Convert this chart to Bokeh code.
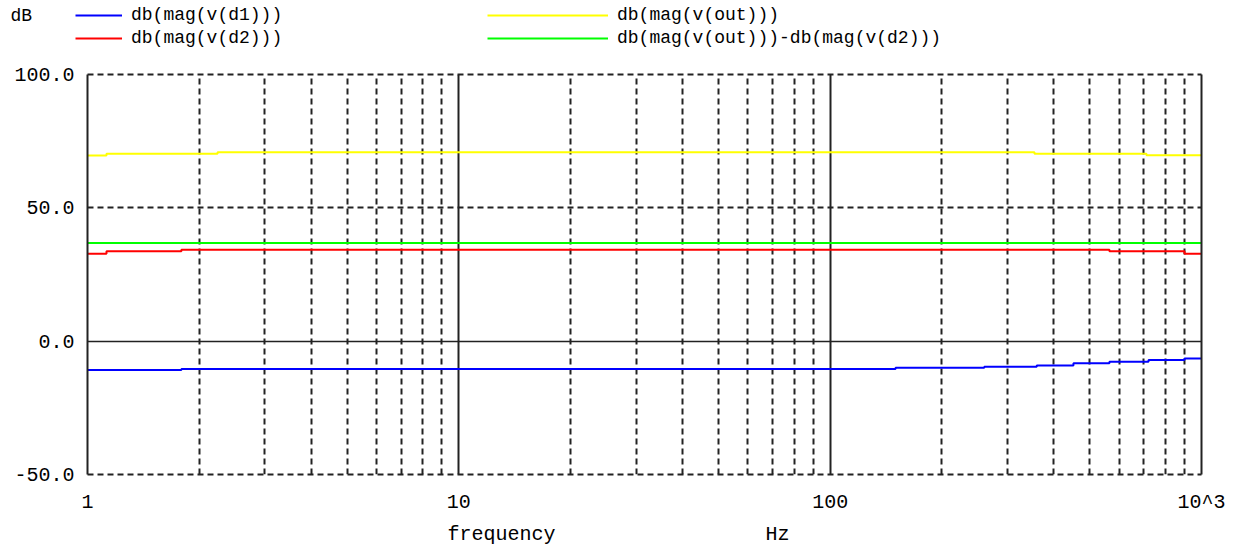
from bokeh.plotting import figure
from bokeh.layouts import column
from bokeh.models import (FixedTicker, Grid, Legend, LegendItem, Label, Range1d,
                          LinearAxis, LogAxis, LogScale)
from bokeh.embed import file_html
from bokeh.resources import INLINE

# ---- data ----
f_d1 = [1, 1.79, 150, 260, 360, 452, 565, 720, 900, 1000]
v_d1 = [-10.8, -10.4, -10.0, -9.6, -9.1, -8.3, -7.7, -7.1, -6.5, -6.5]

f_d2 = [1, 1.125, 1.79, 565, 900, 1000]
v_d2 = [32.8, 33.7, 34.3, 33.7, 32.8, 32.8]

f_out = [1, 1.125, 2.24, 355, 711, 1000]
v_out = [69.6, 70.3, 70.8, 70.3, 69.7, 69.7]

f_diff = [1, 1000]
v_diff = [36.8, 36.8]

series_labels = ["db(mag(v(d1)))", "db(mag(v(d2)))",
                 "db(mag(v(out)))", "db(mag(v(out)))-db(mag(v(d2)))"]
series_colors = ["#0000ff", "#ff0000", "#ffff00", "#00ff00"]

x_ticks = [1, 10, 100, 1000]
x_tick_labels = ["1", "10", "100", "10^3"]
x_minor = [m * d for d in (1, 10, 100) for m in range(2, 10)]
y_ticks = [-50, 0, 50, 100]
y_tick_labels = ["-50.0", "0.0", "50.0", "100.0"]

FONT = "Liberation Mono"
GRID = "#222222"
DASH = "6 4"
W = 1257

# ---------------- main plot ----------------
p = figure(width=W, height=454, x_axis_type=None, y_axis_type=None,
           x_range=Range1d(1, 1000), y_range=Range1d(-50, 100),
           output_backend="svg", toolbar_location=None,
           min_border_left=87, min_border_right=56,
           min_border_top=12, min_border_bottom=40)
p.x_scale = LogScale()
p.frame_align = False
p.outline_line_color = None
p.background_fill_color = "white"
p.border_fill_color = "white"

xaxis = LogAxis(ticker=FixedTicker(ticks=x_ticks, minor_ticks=[]),
                major_label_overrides={t: l for t, l in zip(x_ticks, x_tick_labels)},
                axis_line_color=GRID, axis_line_width=2, axis_line_dash=DASH,
                major_tick_line_color=None, minor_tick_line_color=None,
                major_label_standoff=10,
                major_label_text_font=FONT, major_label_text_font_size="20px",
                major_label_text_color="black")
p.add_layout(xaxis, "below")

top_axis = LogAxis(ticker=FixedTicker(ticks=[], minor_ticks=[]),
                   axis_line_color=GRID, axis_line_width=2, axis_line_dash=DASH,
                   major_tick_line_color=None, minor_tick_line_color=None)
p.add_layout(top_axis, "above")

yaxis = LinearAxis(ticker=FixedTicker(ticks=y_ticks),
                   major_label_overrides={t: l for t, l in zip(y_ticks, y_tick_labels)},
                   axis_line_color=GRID, axis_line_width=2,
                   major_tick_line_color=None, minor_tick_line_color=None,
                   major_label_standoff=7,
                   major_label_text_font=FONT, major_label_text_font_size="20px",
                   major_label_text_color="black")
p.add_layout(yaxis, "left")

right_axis = LinearAxis(ticker=FixedTicker(ticks=[]),
                        axis_line_color=GRID, axis_line_width=2,
                        major_tick_line_color=None, minor_tick_line_color=None)
p.add_layout(right_axis, "right")

# vertical grid: decades solid, 2..9 dashed
p.add_layout(Grid(dimension=0, ticker=FixedTicker(ticks=x_ticks, minor_ticks=x_minor),
                  grid_line_color=GRID, grid_line_width=2,
                  minor_grid_line_color=GRID, minor_grid_line_width=2,
                  minor_grid_line_dash=DASH))
# horizontal grid: dashed at 50; solid at 0
p.add_layout(Grid(dimension=1, ticker=FixedTicker(ticks=[50]),
                  grid_line_color=GRID, grid_line_width=2, grid_line_dash=DASH))
p.add_layout(Grid(dimension=1, ticker=FixedTicker(ticks=[0]),
                  grid_line_color=GRID, grid_line_width=1.5))

for fx, vy, c in [(f_d1, v_d1, series_colors[0]), (f_d2, v_d2, series_colors[1]),
                  (f_out, v_out, series_colors[2]), (f_diff, v_diff, series_colors[3])]:
    p.step(fx, vy, mode="after", line_color=c, line_width=2)

# ---------------- legend strip ----------------
top = figure(width=W, height=62, x_axis_type=None, y_axis_type=None,
             x_range=Range1d(0, 1), y_range=Range1d(0, 1),
             output_backend="svg", toolbar_location=None,
             min_border=0, outline_line_color=None)
top.frame_align = False
top.grid.visible = False
top.border_fill_color = "white"
top.background_fill_color = "white"
# single-point (invisible) line renderers that only supply the legend swatches
sw = [top.line([0.5], [0.5], line_color=c, line_width=2) for c in series_colors]


def mk_legend(items, loc, gw):
    return Legend(items=items, location=loc, orientation="vertical",
                  glyph_width=gw, glyph_height=20, label_height=20, spacing=3,
                  padding=0, margin=0, label_standoff=9,
                  label_text_font=FONT, label_text_font_size="18px",
                  label_text_color="black", border_line_color=None,
                  background_fill_alpha=0)


top.add_layout(mk_legend([LegendItem(label=series_labels[0], renderers=[sw[0]]),
                          LegendItem(label=series_labels[1], renderers=[sw[1]])],
                         (75, 14), 47))
top.add_layout(mk_legend([LegendItem(label=series_labels[2], renderers=[sw[2]]),
                          LegendItem(label=series_labels[3], renderers=[sw[3]])],
                         (487, 14), 121))
top.add_layout(Label(x=10, y=47, x_units="screen", y_units="screen", text="dB",
                     text_font=FONT, text_font_size="18px", text_baseline="middle",
                     text_color="black"))

# ---------------- axis title strip ----------------
bot = figure(width=W, height=33, x_axis_type=None, y_axis_type=None,
             x_range=Range1d(0, 1), y_range=Range1d(0, 1),
             output_backend="svg", toolbar_location=None,
             min_border=0, outline_line_color=None)
bot.frame_align = False
bot.grid.visible = False
bot.border_fill_color = "white"
bot.background_fill_color = "white"
bot.add_layout(Label(x=447, y=15, x_units="screen", y_units="screen", text="frequency",
                     text_font=FONT, text_font_size="20px", text_baseline="middle",
                     text_color="black"))
bot.add_layout(Label(x=765, y=15, x_units="screen", y_units="screen", text="Hz",
                     text_font=FONT, text_font_size="20px", text_baseline="middle",
                     text_color="black"))

layout = column(top, p, bot, spacing=0)
open("out.html", "w").write(file_html(layout, INLINE))
